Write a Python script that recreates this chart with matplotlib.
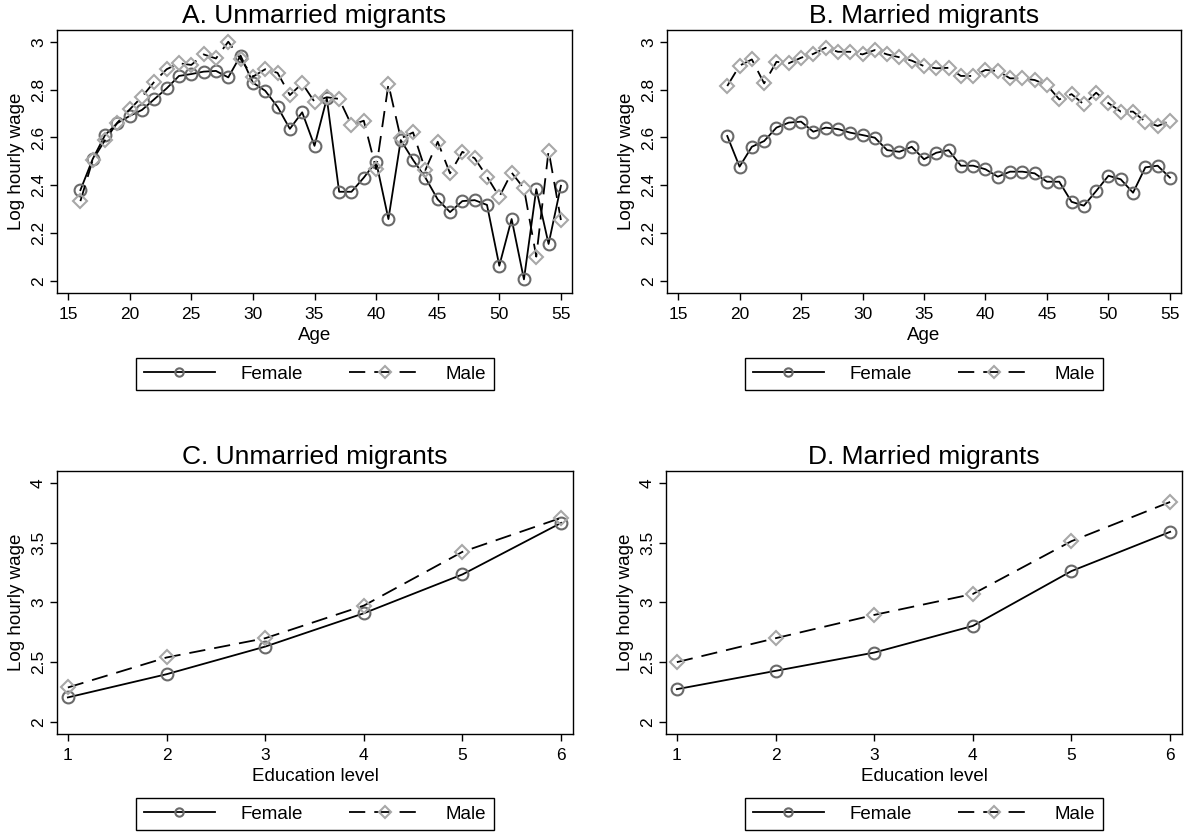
import matplotlib
matplotlib.use("Agg")
import matplotlib.pyplot as plt
from matplotlib.lines import Line2D

plt.rcParams['font.family'] = ['Liberation Sans', 'DejaVu Sans']

# --- data ---
age_unmarried = list(range(16, 56))
female_unmarried = [2.38, 2.51, 2.61, 2.66, 2.69, 2.715, 2.76, 2.805, 2.857, 2.865,
                    2.875, 2.878, 2.851, 2.942, 2.829, 2.795, 2.728, 2.636, 2.705, 2.565,
                    2.763, 2.373, 2.373, 2.432, 2.499, 2.259, 2.589, 2.506, 2.432, 2.341,
                    2.288, 2.334, 2.338, 2.318, 2.064, 2.259, 2.007, 2.384, 2.155, 2.398]
male_unmarried = [2.334, 2.506, 2.589, 2.662, 2.717, 2.770, 2.833, 2.885, 2.910, 2.903,
                  2.947, 2.930, 3.0, 2.928, 2.854, 2.885, 2.870, 2.777, 2.826, 2.749,
                  2.768, 2.761, 2.652, 2.670, 2.468, 2.822, 2.596, 2.621, 2.464, 2.582,
                  2.450, 2.540, 2.513, 2.436, 2.352, 2.453, 2.387, 2.102, 2.545, 2.255]

age_married = list(range(19, 56))
female_married = [2.606, 2.478, 2.561, 2.585, 2.641, 2.662, 2.666, 2.624, 2.641, 2.635,
                  2.620, 2.610, 2.599, 2.547, 2.540, 2.561, 2.509, 2.536, 2.547, 2.482,
                  2.482, 2.467, 2.436, 2.457, 2.457, 2.450, 2.415, 2.415, 2.331, 2.315,
                  2.376, 2.440, 2.425, 2.369, 2.475, 2.482, 2.432]
male_married = [2.815, 2.900, 2.926, 2.826, 2.916, 2.910, 2.933, 2.949, 2.975, 2.958,
                2.958, 2.947, 2.965, 2.947, 2.935, 2.921, 2.898, 2.889, 2.891, 2.857,
                2.857, 2.882, 2.878, 2.847, 2.847, 2.840, 2.819, 2.759, 2.781, 2.738,
                2.787, 2.743, 2.708, 2.708, 2.666, 2.648, 2.669]

edu_level = [1, 2, 3, 4, 5, 6]
female_edu_unmarried = [2.206, 2.400, 2.631, 2.910, 3.235, 3.666]
male_edu_unmarried = [2.289, 2.540, 2.701, 2.974, 3.424, 3.708]
female_edu_married = [2.275, 2.428, 2.581, 2.804, 3.263, 3.591]
male_edu_married = [2.501, 2.701, 2.896, 3.071, 3.513, 3.841]

titles = ["A. Unmarried migrants", "B. Married migrants",
          "C. Unmarried migrants", "D. Married migrants"]

FEMALE_KW = dict(color='black', lw=1.3, linestyle='-', marker='o', markersize=8.5,
                 markerfacecolor='none', markeredgecolor='#6a6a6a', markeredgewidth=1.5)
MALE_KW = dict(color='black', lw=1.3, linestyle=(0, (9, 5)), marker='D', markersize=7.5,
               markerfacecolor='none', markeredgecolor='#a8a8a8', markeredgewidth=1.5)


def style_axes(ax, title, xlabel):
    ax.set_title(title, fontsize=19, pad=5)
    ax.set_xlabel(xlabel, fontsize=13.5, labelpad=4)
    ax.set_ylabel("Log hourly wage", fontsize=13.5, labelpad=4)
    ax.tick_params(axis='both', direction='out', length=5, width=1, labelsize=12.5)
    ax.tick_params(axis='x', pad=5)
    ax.tick_params(axis='y', labelrotation=90, pad=3)
    for lbl in ax.get_yticklabels():
        lbl.set_verticalalignment('center')
    for sp in ax.spines.values():
        sp.set_linewidth(1.0)


def add_legend(fig, x, y):
    handles = [Line2D([], [], **FEMALE_KW), Line2D([], [], **MALE_KW)]
    handles[0].set_markersize(6)
    handles[1].set_markersize(6)
    leg = fig.legend(handles, ["Female", "Male"], loc='center', bbox_to_anchor=(x, y),
                     ncol=2, fontsize=13.5, numpoints=1, handlelength=3.8,
                     handletextpad=1.35, columnspacing=2.5, borderpad=0.42,
                     fancybox=False, edgecolor='black', framealpha=1)
    leg.get_frame().set_linewidth(1.0)


fig = plt.figure(figsize=(11.85, 8.33), dpi=100)
W, H = 1185, 833
boxes = [(57, 30, 572, 293), (667, 30, 1181, 293), (57, 471, 573, 734), (666, 471, 1182, 734)]
axes = [fig.add_axes([l / W, 1 - b / H, (r - l) / W, (b - t) / H]) for l, t, r, b in boxes]

# Age panels
for ax, ages, fem, mal, title in [(axes[0], age_unmarried, female_unmarried, male_unmarried, titles[0]),
                                  (axes[1], age_married, female_married, male_married, titles[1])]:
    ax.plot(ages, fem, **FEMALE_KW)
    ax.plot(ages, mal, **MALE_KW)
    ax.set_xlim(14.1, 55.9)
    ax.set_ylim(1.95, 3.049)
    ax.set_xticks(range(15, 60, 5))
    ax.set_yticks([2, 2.2, 2.4, 2.6, 2.8, 3])
    ax.set_yticklabels(["2", "2.2", "2.4", "2.6", "2.8", "3"])
    style_axes(ax, title, "Age")

# Education panels
for ax, fem, mal, title in [(axes[2], female_edu_unmarried, male_edu_unmarried, titles[2]),
                            (axes[3], female_edu_married, male_edu_married, titles[3])]:
    ax.plot(edu_level, fem, **FEMALE_KW)
    ax.plot(edu_level, mal, **MALE_KW)
    ax.set_xlim(0.89, 6.12)
    ax.set_ylim(1.9, 4.1)
    ax.set_xticks(edu_level)
    ax.set_yticks([2, 2.5, 3, 3.5, 4])
    ax.set_yticklabels(["2", "2.5", "3", "3.5", "4"])
    style_axes(ax, title, "Education level")

add_legend(fig, 315 / W, 1 - 374 / H)
add_legend(fig, 924 / W, 1 - 374 / H)
add_legend(fig, 315 / W, 1 - 814 / H)
add_legend(fig, 924 / W, 1 - 814 / H)

fig.savefig("out.png", dpi=100)
